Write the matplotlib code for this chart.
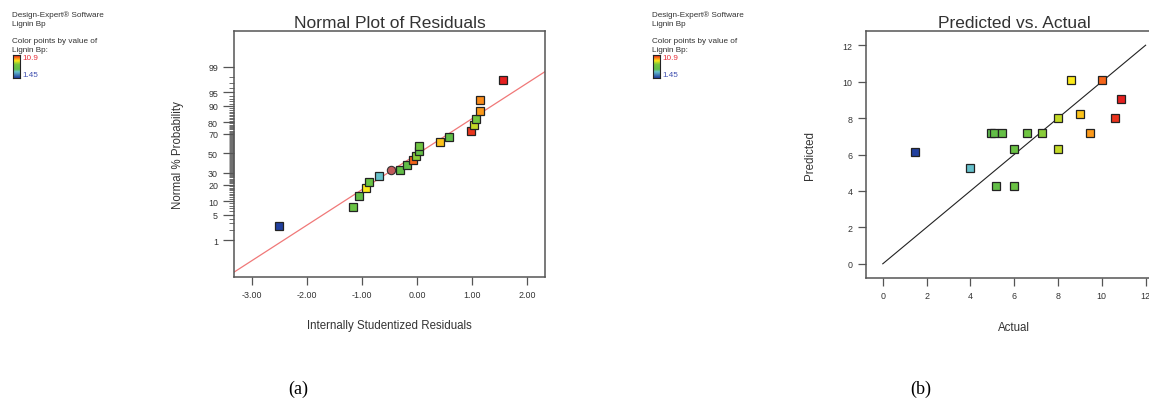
import matplotlib
matplotlib.use('Agg')
from matplotlib import pyplot as plt
from matplotlib.colors import LinearSegmentedColormap, Normalize
from statistics import NormalDist
import numpy as np

plt.rcParams['font.family'] = ['Liberation Sans', 'DejaVu Sans']

# (a) normal plot of residuals
resid = [-2.51, -1.17, -1.06, -0.93, -0.87, -0.69, -0.47, -0.31, -0.19, -0.07, -0.02,
         0.04, 0.04, 0.41, 0.58, 0.98, 1.03, 1.07, 1.15, 1.15, 1.57]
prob = [2.5, 7.5, 12.5, 17.5, 22.5, 27.5, 32.5, 32.5, 37.5, 42.5, 47.5,
        52.5, 57.5, 62.5, 67.5, 72.5, 77.5, 82.5, 87.5, 92.5, 97.5]
resid_lignin = [1.45, 6.0, 5.2, 8.6, 6.0, 4.0, 10.3, 5.1, 5.0, 10.0, 7.3,
                5.45, 6.6, 9.0, 5.0, 10.6, 8.0, 7.0, 9.44, 9.6, 10.9]
circled = 6  # index of the round marker
fit_slope = 0.952
fit_icpt = -0.02
prob_major = [1, 5, 10, 20, 30, 50, 70, 80, 90, 95, 99]
resid_ticks = [-3, -2, -1, 0, 1, 2]

# (b) predicted vs actual
actual = [1.45, 3.99, 4.93, 5.08, 5.43, 6.59, 7.26, 5.19, 6.0, 6.0, 7.99, 7.99,
          8.6, 9.0, 9.44, 10.0, 10.61, 10.88]
predicted = [6.14, 5.28, 7.18, 7.18, 7.18, 7.18, 7.18, 4.26, 4.26, 6.32, 8.02, 6.32,
             10.08, 8.2, 7.18, 10.08, 8.02, 9.06]
ab_ticks = [0, 2, 4, 6, 8, 10, 12]

lig_min, lig_max = 1.45, 10.9

# Design-Expert style blue-green-red colour scale
nodes = [(1.45, (0.13, 0.25, 0.62)), (4.0, (0.40, 0.76, 0.80)), (5.0, (0.38, 0.74, 0.28)),
         (7.0, (0.45, 0.78, 0.25)), (8.0, (0.76, 0.85, 0.15)), (8.6, (0.99, 0.92, 0.10)),
         (9.4, (0.99, 0.62, 0.10)), (10.0, (0.96, 0.40, 0.10)), (10.9, (0.90, 0.12, 0.12))]
cmap = LinearSegmentedColormap.from_list(
    'de', [((v - lig_min) / (lig_max - lig_min), c) for v, c in nodes])
norm = Normalize(lig_min, lig_max)

W, H = 1149, 402
fig = plt.figure(figsize=(W / 100, H / 100), dpi=100)
txt = '#333333'
spine_c = '#555555'
small = 6.4
legsize = 5.9


def px(x, y):
    return x / W, 1 - y / H


def side_legend(x0):
    fig.text(*px(x0, 15.5), 'Design-Expert\u00ae Software', fontsize=legsize, color=txt, va='center')
    fig.text(*px(x0, 24), 'Lignin Bp', fontsize=legsize, color=txt, va='center')
    fig.text(*px(x0, 41.5), 'Color points by value of', fontsize=legsize, color=txt, va='center')
    fig.text(*px(x0, 50), 'Lignin Bp:', fontsize=legsize, color=txt, va='center')
    cax = fig.add_axes([(x0 + 1.5) / W, 1 - 79 / H, 7 / W, 23 / H])
    cax.imshow(np.linspace(1, 0, 50)[:, None], cmap=cmap, aspect='auto')
    cax.set_xticks([])
    cax.set_yticks([])
    for s in cax.spines.values():
        s.set_linewidth(0.8)
        s.set_color('#222222')
    fig.text(*px(x0 + 10.5, 58), '10.9', fontsize=legsize, color='#e8303a', va='center')
    fig.text(*px(x0 + 10.5, 75.5), '1.45', fontsize=legsize, color='#4050b0', va='center')


def style_axes(ax):
    for s in ax.spines.values():
        s.set_color(spine_c)
        s.set_linewidth(1.1)
    ax.tick_params(labelsize=small, colors=txt, length=6, width=0.9, color=spine_c)


side_legend(11.5)
side_legend(651.5)

# ---- (a)
nd = NormalDist()
z = [nd.inv_cdf(p / 100) for p in prob]
ax1 = fig.add_axes([234 / W, 1 - 278 / H, 311 / W, 246 / H])
style_axes(ax1)
xl = np.array([-3.33, 2.33])
ax1.plot(xl, fit_slope * xl + fit_icpt, color='#f07878', lw=0.9, zorder=1)
for i, (r, zz, v) in enumerate(zip(resid, z, resid_lignin)):
    if i == circled:
        ax1.plot(r, zz, 'o', ms=6, mfc='#c05a5a', mec='#333333', mew=0.8, zorder=3)
    else:
        ax1.plot(r, zz, 's', ms=5.2, mfc=cmap(norm(v)), mec='#222222', mew=0.9, zorder=3)
ax1.set_xlim(-3.33, 2.33)
ax1.set_ylim(-3.32, 3.29)
ax1.set_xticks(resid_ticks)
ax1.set_xticklabels(['%.2f' % t for t in resid_ticks])
ax1.set_yticks([nd.inv_cdf(p / 100) for p in prob_major])
ax1.set_yticklabels([str(p) for p in prob_major])
minor_p = [p for p in range(2, 99) if p not in prob_major]
ax1.set_yticks([nd.inv_cdf(p / 100) for p in minor_p], minor=True)
ax1.tick_params(axis='y', which='minor', length=3.5, width=0.6, color=spine_c)
ax1.tick_params(axis='y', length=8)
ax1.set_title('Normal Plot of Residuals', fontsize=12.5, color=txt, pad=3)
ax1.set_ylabel('Normal % Probability', fontsize=8.3, color=txt, labelpad=17)
ax1.set_xlabel('Internally Studentized Residuals', fontsize=8.3, color=txt, labelpad=14)

# ---- (b)
ax2 = fig.add_axes([865.7 / W, 1 - 279 / H, 297 / W, 247 / H])
style_axes(ax2)
ax2.plot([0, 12], [0, 12], color='#222222', lw=0.8, zorder=1)
for a, p in zip(actual, predicted):
    ax2.plot(a, p, 's', ms=5.2, mfc=cmap(norm(a)), mec='#222222', mew=0.9, zorder=3)
ax2.set_xlim(-0.78, 12.78)
ax2.set_ylim(-0.78, 12.78)
ax2.set_xticks(ab_ticks)
ax2.set_yticks(ab_ticks)
ax2.set_title('Predicted vs. Actual', fontsize=12.5, color=txt, pad=3)
ax2.set_ylabel('Predicted', fontsize=8.3, color=txt, labelpad=19)
ax2.set_xlabel('Actual', fontsize=8.3, color=txt, labelpad=15)

fig.text(*px(298, 389), '(a)', fontsize=13, family='Liberation Serif', ha='center', va='center')
fig.text(*px(921, 389), '(b)', fontsize=13, family='Liberation Serif', ha='center', va='center')

fig.savefig('out.png', dpi=100)
